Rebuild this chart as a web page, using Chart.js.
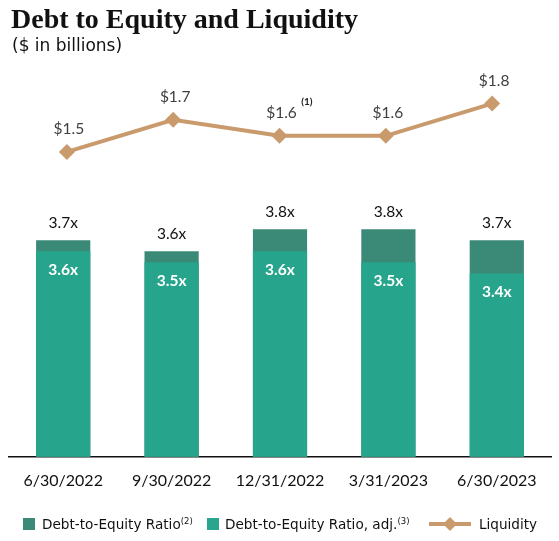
<!DOCTYPE html>
<html>
<head>
<meta charset="utf-8">
<script src="https://cdn.jsdelivr.net/npm/chart.js@4"></script>
<style>
  body { margin: 0; background: #fff; }
  #wrap { position: relative; width: 559px; height: 541px; overflow: hidden; }
  #chart { position: absolute; left: 0; top: 0; }
  .title { position: absolute; left: 11px; top: 3px; font: bold 28px "Liberation Serif", serif; color: #111; white-space: nowrap; }
  .subtitle { position: absolute; left: 12px; top: 35px; font: 17px "DejaVu Sans", sans-serif; color: #111; white-space: nowrap; }
  .leg { position: absolute; top: 515px; font: 13.6px "DejaVu Sans", sans-serif; color: #111; white-space: nowrap; line-height: 18px; }
  .leg sup { font-size: 8.5px; vertical-align: 5px; line-height: 0; }
  .sq { position: absolute; top: 518px; width: 12px; height: 12px; }
  .lineicon { position: absolute; top: 512px; }
</style>
</head>
<body>
<div id="wrap">
  <canvas id="chart" width="559" height="541"></canvas>
  <div class="title">Debt to Equity and Liquidity</div>
  <div class="subtitle">($ in billions)</div>
  <div class="sq" style="left:23px;background:#3b8977"></div>
  <div class="leg" style="left:42px">Debt-to-Equity Ratio<sup>(2)</sup></div>
  <div class="sq" style="left:207px;background:#2aa68e"></div>
  <div class="leg" style="left:225px">Debt-to-Equity Ratio, adj.<sup>(3)</sup></div>
  <canvas class="lineicon" id="lineIcon" width="44" height="24" style="left:428px"></canvas>
  <div class="leg" style="left:479px">Liquidity</div>
</div>
<script>
const categories = ['6/30/2022', '9/30/2022', '12/31/2022', '3/31/2023', '6/30/2023'];
const debtToEquity = [3.7, 3.6, 3.8, 3.8, 3.7];
const debtToEquityAdj = [3.6, 3.5, 3.6, 3.5, 3.4];
const liquidity = [1.5, 1.7, 1.6, 1.6, 1.8];
const liquidityNotes = ['', '', '(1)', '', ''];

const darkTeal = '#3b8977';
const lightTeal = '#26a58c';
const tan = '#c99a6c';

// legend icon for the line series
const ic = document.getElementById('lineIcon').getContext('2d');
ic.strokeStyle = tan;
ic.lineWidth = 4;
ic.beginPath(); ic.moveTo(1, 12); ic.lineTo(43, 12); ic.stroke();
ic.fillStyle = tan;
ic.beginPath(); ic.moveTo(22, 5); ic.lineTo(29, 12); ic.lineTo(22, 19); ic.lineTo(15, 12); ic.closePath(); ic.fill();

const valueLabels = {
  id: 'valueLabels',
  afterDatasetsDraw(chart) {
    const ctx = chart.ctx;
    ctx.save();
    ctx.textAlign = 'center';
    ctx.textBaseline = 'middle';

    chart.getDatasetMeta(2).data.forEach((bar, i) => {
      ctx.font = '15.5px Lato';
      ctx.fillStyle = '#111';
      ctx.fillText(debtToEquity[i].toFixed(1) + 'x', bar.x, bar.y - 17);
    });

    chart.getDatasetMeta(1).data.forEach((bar, i) => {
      ctx.font = 'bold 15.5px Lato';
      ctx.fillStyle = '#fff';
      ctx.fillText(debtToEquityAdj[i].toFixed(1) + 'x', bar.x, bar.y + 19);
    });

    chart.getDatasetMeta(0).data.forEach((pt, i) => {
      ctx.font = '15.5px Lato';
      ctx.fillStyle = '#404040';
      const txt = '$' + liquidity[i].toFixed(1);
      ctx.fillText(txt, pt.x + 2, pt.y - 23);
      if (liquidityNotes[i]) {
        const w = ctx.measureText(txt).width;
        ctx.font = 'bold 10px Lato';
        ctx.fillStyle = '#222';
        ctx.fillText(liquidityNotes[i], pt.x + 2 + w / 2 + 10, pt.y - 34);
      }
    });
    ctx.restore();
  }
};

new Chart(document.getElementById('chart'), {
  data: {
    labels: categories,
    datasets: [
      {
        type: 'line',
        label: 'Liquidity',
        data: liquidity.map((v, i) => ({ x: i, y: v })),
        xAxisID: 'x2',
        yAxisID: 'y2',
        borderColor: tan,
        backgroundColor: tan,
        borderWidth: 4,
        pointStyle: 'rectRot',
        pointRadius: 8,
        pointBorderWidth: 0,
        pointBackgroundColor: tan,
        order: 0
      },
      {
        type: 'bar',
        label: 'Debt-to-Equity Ratio, adj.',
        data: debtToEquityAdj,
        backgroundColor: lightTeal,
        grouped: false,
        barPercentage: 0.5,
        categoryPercentage: 1,
        order: 1
      },
      {
        type: 'bar',
        label: 'Debt-to-Equity Ratio',
        data: debtToEquity,
        backgroundColor: darkTeal,
        grouped: false,
        barPercentage: 0.5,
        categoryPercentage: 1,
        order: 2
      }
    ]
  },
  options: {
    responsive: false,
    animation: false,
    layout: { padding: { left: 9, right: 7, top: 60, bottom: 37 } },
    plugins: {
      legend: { display: false },
      tooltip: { enabled: false }
    },
    scales: {
      x: {
        grid: { display: false, drawTicks: false },
        border: { display: true, color: '#111', width: 1.5 },
        ticks: { font: { family: 'Lato', size: 16 }, color: '#111', padding: 14 }
      },
      y: { display: false, min: 1.736, max: 5.336 },
      x2: { type: 'linear', display: false, min: -0.5446, max: 4.554 },
      y2: { display: false, min: -0.394, max: 2.071 }
    }
  },
  plugins: [valueLabels]
});
</script>
</body>
</html>
